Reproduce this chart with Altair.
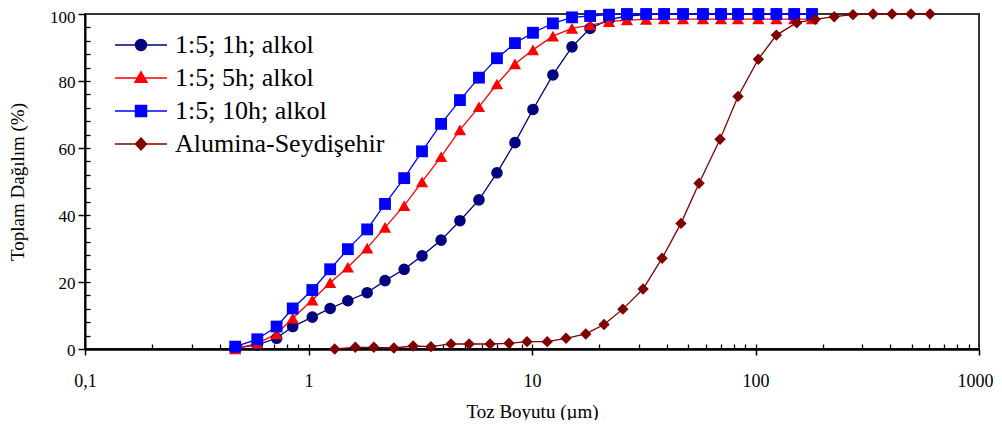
import altair as alt
import pandas as pd

names = ["1:5; 1h; alkol", "1:5; 5h; alkol", "1:5; 10h; alkol", "Alumina-Seydişehir"]
colors = ["#000080", "#FF0000", "#0000FF", "#800000"]
shapes = ["circle", "triangle-up", "square", "diamond"]
sizes = [135, 150, 140, 130]

x_samples = [0.47, 0.59, 0.72, 0.85, 1.04, 1.25, 1.5, 1.83, 2.2, 2.68, 3.22, 3.92,
             4.76, 5.79, 6.97, 8.39, 10.1, 12.4, 15.1, 18.2, 22.1, 26.6, 32.4, 39.0,
             47.4, 58.2, 70.1, 83.5, 103, 124, 149, 179]
y_1h = [0.3, 1.2, 3.2, 6.7, 9.5, 12.1, 14.4, 16.8, 20.4, 23.8, 27.8, 32.5, 38.3, 44.5,
        52.6, 61.6, 71.5, 81.8, 90.2, 95.7, 98.3, 99.4, 99.8, 100, 100, 100, 100, 100,
        100, 100, 100, 100]
y_5h = [0, 1.7, 4.5, 9.2, 14.6, 19.8, 24.4, 30.1, 36.3, 42.8, 49.9, 57.4, 65.4, 72.3,
        79.1, 85.1, 89.3, 93.4, 95.7, 96.7, 97.7, 98.2, 98.4, 98.5, 98.5, 98.5, 98.5,
        98.5, 98.5, 98.5, 98.5, 98.5]
y_10h = [0.7, 2.9, 6.7, 12.1, 17.6, 23.8, 29.8, 35.7, 43.3, 51.0, 59.0, 67.2, 74.3,
         81.0, 86.8, 91.3, 94.4, 97.2, 99.0, 99.4, 99.8, 100, 100, 100, 100, 100, 100,
         100, 100, 100, 100, 100]
x_alumina = [1.31, 1.62, 1.96, 2.41, 2.94, 3.53, 4.34, 5.23, 6.49, 7.89, 9.5, 11.7,
             14.2, 17.4, 21.0, 25.5, 31.4, 38.2, 46.4, 55.9, 69.4, 83.5, 103, 124, 153,
             185, 225, 273, 336, 408, 496, 604]
y_alumina = [0, 0.5, 0.5, 0.3, 0.9, 0.7, 1.5, 1.5, 1.5, 1.7, 2.2, 2.2, 3.2, 4.5, 7.3,
             11.9, 17.9, 27.1, 37.5, 49.5, 62.6, 75.4, 86.5, 93.7, 97.4, 98.4, 99.2,
             99.8, 100, 100, 100, 100]

x_ticks = [0.1, 1, 10, 100, 1000]
x_minor = [0.2, 0.3, 0.4, 0.5, 0.6, 0.7, 0.8, 0.9, 1, 2, 3, 4, 5, 6, 7, 8, 9, 10,
           20, 30, 40, 50, 60, 70, 80, 90, 100, 200, 300, 400, 500, 600, 700, 800, 900]
y_ticks = [0, 20, 40, 60, 80, 100]
y_minor = [4, 8, 12, 16, 20, 24, 28, 32, 36, 40, 44, 48, 52, 56, 60, 64, 68, 72, 76,
           80, 84, 88, 92, 96]

# legend symbols: line segment + marker (unit coords, scaled by sqrt(size)/2)
legend_paths = [
    "M-2.6,0H2.6M-0.55,0A0.55,0.55,0,1,1,0.55,0A0.55,0.55,0,1,1,-0.55,0Z",
    "M-2.6,0H2.6M0,-0.62L0.6,0.42L-0.6,0.42Z",
    "M-2.6,0H2.6M-0.55,-0.55H0.55V0.55H-0.55Z",
    "M-2.6,0H2.6M0,-0.6L0.55,0L0,0.6L-0.55,0Z",
]

rows = []
series_x = [x_samples, x_samples, x_samples, x_alumina]
series_y = [y_1h, y_5h, y_10h, y_alumina]
for i, name in enumerate(names):
    for j, (xv, yv) in enumerate(zip(series_x[i], series_y[i])):
        rows.append({"series": name, "order": i, "idx": j, "x": xv, "y": yv})
df = pd.DataFrame(rows)

FONT = "Liberation Serif"
xscale = alt.Scale(type="log", domain=[0.1, 1000], nice=False)
yscale = alt.Scale(domain=[0, 100], nice=False)
cscale = alt.Scale(domain=names, range=colors)

leg = dict(title=None, orient="none", legendX=43, legendY=18, labelFont=FONT,
           labelFontSize=26, labelColor="black", symbolSize=400, labelOffset=21,
           rowPadding=7, symbolStrokeWidth=1.5, padding=0, labelLimit=500,
           symbolOpacity=1)

x_main = alt.X("x:Q", scale=xscale, title="Toz Boyutu (µm)",
               axis=alt.Axis(orient="bottom", values=x_ticks, grid=False,
                             labelExpr="replace(format(datum.value, '~g'), '.', ',')",
                             labelAlign={"condition": {"test": "datum.value >= 1000",
                                                       "value": "right"},
                                         "value": "center"},
                             labelOffset={"condition": {"test": "datum.value >= 1000",
                                                        "value": 14},
                                          "value": 0},
                             tickSize=6, labelPadding=17, titlePadding=12,
                             domainColor="black", domainWidth=2.5, tickColor="black",
                             tickWidth=1.5, labelFont=FONT, labelFontSize=18,
                             titleFont=FONT, titleFontSize=19, titleFontWeight="normal",
                             labelColor="black", titleColor="black", labelFlush=False))
y_main = alt.Y("y:Q", scale=yscale, title="Toplam Dağılım (%)",
               axis=alt.Axis(orient="left", values=y_ticks, grid=False,
                             labelOffset={"condition": {"test": "datum.value >= 100",
                                                        "value": 3},
                                          "value": 1.5},
                             tickSize=7, labelPadding=3, titlePadding=22,
                             domainColor="black", domainWidth=2, tickColor="black",
                             tickWidth=1.5, labelFont=FONT, labelFontSize=17,
                             titleFont=FONT, titleFontSize=19, titleFontWeight="normal",
                             labelColor="black", titleColor="black", labelFlush=False))
x_inner = alt.X("x:Q", scale=xscale,
                axis=alt.Axis(orient="top", offset=-335, values=x_minor, labels=False,
                              domain=False, grid=False, tickSize=5, tickColor="black",
                              tickWidth=1.3, title=None))
y_inner = alt.Y("y:Q", scale=yscale,
                axis=alt.Axis(orient="right", offset=-894, values=y_minor, labels=False,
                              domain=False, grid=False, tickSize=5, tickColor="black",
                              tickWidth=1.3, title=None))

color_enc = alt.Color("series:N", scale=cscale, legend=alt.Legend(**leg))

lines = alt.Chart(df).mark_line(strokeWidth=1.3).encode(
    x=x_main, y=y_main, color=color_enc, order="idx:Q",
)

ticks_layer = alt.Chart(df).transform_filter("datum.y < -1000").mark_point(
    opacity=0
).encode(x=x_inner, y=y_inner)

point_layers = []
for i, name in enumerate(names):
    pl = alt.Chart(df).transform_filter(alt.datum.series == name).mark_point(
        filled=True, shape=shapes[i], size=sizes[i], opacity=1
    ).encode(
        x=alt.X("x:Q", scale=xscale, axis=None),
        y=alt.Y("y:Q", scale=yscale, axis=None),
        color=color_enc,
    )
    point_layers.append(pl)

legend_layer = alt.Chart(df).transform_filter("datum.y < -1000").mark_point(
    filled=True, size=400, opacity=1, strokeWidth=1.5
).encode(
    x=alt.X("x:Q", scale=xscale, axis=None),
    y=alt.Y("y:Q", scale=yscale, axis=None),
    color=color_enc,
    stroke=alt.Stroke("series:N", scale=alt.Scale(domain=names, range=colors),
                      legend=alt.Legend(**leg)),
    shape=alt.Shape("series:N", scale=alt.Scale(domain=names, range=legend_paths),
                    legend=alt.Legend(**leg)),
)

chart = alt.layer(lines, ticks_layer, *point_layers, legend_layer).resolve_axis(
    x="independent", y="independent"
).properties(
    width=894, height=335,
    autosize=alt.AutoSizeParams(type="none"),
    padding={"left": 77, "top": 6, "right": 15, "bottom": 71},
    background="white",
).configure_view(stroke="#333333", strokeWidth=2)

chart.save("out.html", embed_options={"renderer": "svg", "actions": False})
